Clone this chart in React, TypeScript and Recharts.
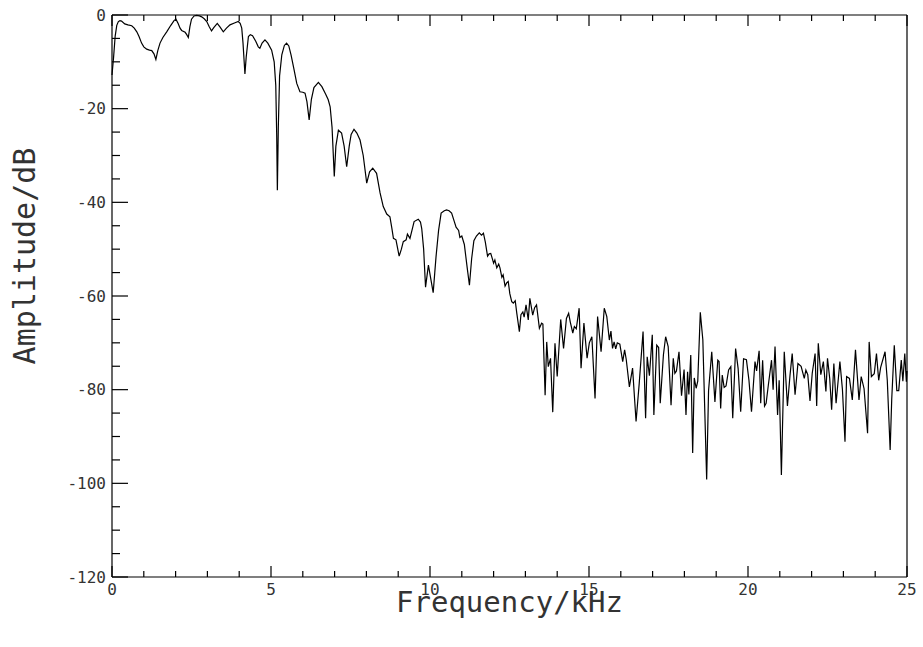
import { Line, LineChart, XAxis, YAxis } from "recharts";

// spectrum, [frequency kHz, amplitude dB]
const passband: [number, number][] = [
  [0, -12.8], [0.05, -9], [0.1, -4.5], [0.15, -2.2], [0.2, -1.4], [0.25, -1.2], [0.3, -1.3],
  [0.4, -1.9], [0.5, -2.1], [0.62, -2.3], [0.7, -2.8], [0.78, -3.6], [0.85, -4.6], [0.93, -6],
  [1, -6.8], [1.09, -7.3], [1.18, -7.5], [1.25, -7.6], [1.32, -8.3], [1.38, -9.5], [1.44, -7.6],
  [1.51, -6], [1.6, -4.8], [1.72, -3.6], [1.85, -2.2], [1.95, -1.2], [2.01, -0.9], [2.08, -1.8],
  [2.14, -2.8], [2.19, -3.3], [2.3, -3.7], [2.35, -4.2], [2.4, -4.8], [2.45, -2.5], [2.5, -0.9],
  [2.58, -0.2], [2.66, -0.1], [2.75, -0.2], [2.82, -0.4], [2.9, -0.8], [2.98, -1.4], [3.05, -2.4],
  [3.13, -3.4], [3.2, -2.7], [3.31, -1.8], [3.4, -2.6], [3.5, -3.6], [3.6, -2.8], [3.71, -2.1],
  [3.85, -1.7], [3.97, -1.4], [4.03, -1.8], [4.08, -2.8], [4.12, -6], [4.18, -12.6], [4.22, -9],
  [4.29, -4.6], [4.35, -4.2], [4.42, -4.4], [4.52, -5.6], [4.6, -6.8], [4.65, -7.1], [4.72, -6],
  [4.81, -5.3], [4.9, -6], [5.02, -7.5],
];

const transition: [number, number][] = [
  [5.1, -10], [5.15, -15], [5.18, -26], [5.2, -37.4], [5.23, -24], [5.27, -13], [5.34, -8.5],
  [5.42, -6.5], [5.49, -6], [5.56, -6.6], [5.63, -8.5], [5.72, -11.5], [5.81, -14.6], [5.91, -16.4],
  [6, -16.5], [6.07, -16.7], [6.13, -18.5], [6.2, -22.4], [6.27, -18], [6.35, -15.5], [6.49, -14.4],
  [6.6, -15.3], [6.72, -16.9], [6.8, -18.1], [6.86, -19.6], [6.92, -24], [6.99, -34.5], [7.04, -28],
  [7.12, -24.6], [7.22, -25.2], [7.3, -28], [7.38, -32.4], [7.46, -28], [7.52, -25.5], [7.61, -24.4],
  [7.7, -25.2], [7.8, -26.7], [7.9, -30], [8.01, -35.9], [8.1, -33.5], [8.2, -32.7], [8.32, -33.8],
  [8.43, -38], [8.53, -40.9], [8.64, -42.5], [8.74, -43.1], [8.8, -45.5], [8.85, -47.7], [8.93, -48],
  [9.03, -51.5], [9.1, -50], [9.16, -48.4], [9.25, -48], [9.29, -46.8], [9.37, -47.7], [9.45, -45.5],
  [9.5, -44.1], [9.63, -43.6], [9.7, -44.2], [9.74, -45.6], [9.8, -50], [9.86, -58.1], [9.95, -53.4],
  [10.1, -59.3], [10.15, -55], [10.19, -51.6], [10.27, -46], [10.35, -42.3], [10.45, -41.8],
  [10.52, -41.6], [10.6, -41.8], [10.68, -42.3], [10.76, -44], [10.82, -45.3], [10.9, -46],
  [10.94, -47.5], [11, -47.2], [11.08, -49], [11.17, -54], [11.24, -57.7], [11.31, -52], [11.38, -48.2],
  [11.46, -47.2], [11.55, -46.5], [11.62, -47], [11.68, -46.6], [11.74, -48.5], [11.81, -51.5],
  [11.86, -51], [11.91, -50.9], [11.95, -51.8], [12, -53], [12.04, -52.3], [12.1, -54], [12.16, -53.2],
  [12.2, -54], [12.26, -56], [12.3, -55.5], [12.36, -57.9], [12.41, -57.2], [12.46, -56.9],
  [12.51, -59.5], [12.57, -61.2], [12.62, -61.5], [12.68, -61], [12.73, -63.7], [12.81, -67.6],
  [12.86, -64], [12.92, -63.4], [12.96, -64.5], [13.02, -61.9], [13.09, -65.1], [13.14, -60.5],
  [13.23, -64.1], [13.29, -62.5], [13.35, -61.9], [13.44, -66.9],
];

const noiseLow: [number, number][] = [
  [13.51, -65.8], [13.55, -66], [13.62, -81.2], [13.67, -69.8], [13.72, -75.1], [13.79, -73.3],
  [13.86, -84.8], [13.93, -70.1], [14, -77.2], [14.11, -65], [14.2, -71.2], [14.29, -64.8],
  [14.36, -63.7], [14.41, -65.5], [14.49, -67.9], [14.54, -66.5], [14.6, -67], [14.69, -62.6],
  [14.75, -75.4], [14.84, -65.8], [14.94, -73.3], [15.01, -70], [15.09, -68.7], [15.19, -81.9],
  [15.27, -64.4], [15.38, -71.9], [15.48, -62.6], [15.56, -64.4], [15.64, -69.4], [15.69, -67.5],
  [15.74, -71.2], [15.79, -69.8], [15.84, -71.3], [15.89, -70], [15.97, -70.3], [16.06, -74],
  [16.12, -71.5], [16.17, -73.5], [16.27, -79.4], [16.37, -75.4], [16.48, -86.8], [16.58, -78.6],
  [16.7, -67.6], [16.78, -86.1], [16.83, -73], [16.9, -77], [16.99, -68.3], [17.04, -85.4],
  [17.13, -70.5], [17.19, -71], [17.24, -82.9], [17.34, -72.6], [17.41, -68.7], [17.49, -70.8],
  [17.58, -83.3], [17.65, -73.3], [17.7, -76.5], [17.75, -76], [17.83, -71.9], [17.91, -81.3],
  [17.99, -75.7], [18.05, -85.4], [18.1, -76.2], [18.14, -81], [18.2, -72.6], [18.26, -93.5],
  [18.31, -77.5], [18.37, -79.7], [18.42, -78.2], [18.5, -63.5], [18.58, -69.4], [18.7, -99.2],
  [18.76, -80.2], [18.86, -71.9], [18.96, -82.6],
];

const noiseHigh: [number, number][] = [
  [19.05, -73.7], [19.09, -74], [19.14, -84], [19.19, -76.9], [19.25, -79.5], [19.31, -79.2],
  [19.39, -75.8], [19.46, -75.1], [19.52, -86.1], [19.61, -71.2], [19.69, -75.5], [19.77, -84.7],
  [19.86, -73.4], [19.95, -73.6], [20.03, -78], [20.11, -84.7], [20.22, -74], [20.27, -76],
  [20.35, -71.7], [20.4, -82.9], [20.46, -73.7], [20.52, -83.5], [20.57, -82.9], [20.64, -79],
  [20.74, -73.7], [20.79, -80], [20.85, -70.8], [20.93, -85.4], [20.98, -78], [21.05, -98.2],
  [21.14, -71.9], [21.24, -83.5], [21.32, -77], [21.39, -72.3], [21.48, -81.1], [21.57, -74.4],
  [21.67, -75], [21.77, -77.6], [21.82, -75.8], [21.88, -76.8], [21.95, -82.4], [22.02, -76.5],
  [22.11, -72.3], [22.16, -83.5], [22.21, -70.1], [22.29, -76.8], [22.37, -74], [22.45, -80.4],
  [22.5, -73.3], [22.57, -77.6], [22.63, -84.3], [22.7, -74.4], [22.77, -82.9], [22.89, -74],
  [22.97, -80], [23.05, -91.1], [23.1, -77.2], [23.19, -77.6], [23.28, -82.2], [23.38, -71.5],
  [23.49, -82.2], [23.56, -77.2], [23.65, -79.8], [23.76, -89.3], [23.81, -69.8], [23.88, -77.2],
  [23.97, -76.6], [24.04, -72.3], [24.11, -78], [24.17, -75.3], [24.31, -71.9], [24.38, -78],
  [24.47, -92.9], [24.52, -82], [24.6, -70.5], [24.68, -80.2], [24.74, -80.2], [24.82, -73.7],
  [24.87, -78.2], [24.93, -72.3], [24.98, -78.3], [25, -76],
];

const freqTicks = Array.from({ length: 26 }, (_, i) => i);
const ampTicks = Array.from({ length: 25 }, (_, i) => -120 + i * 5);

const data = [...passband, ...transition, ...noiseLow, ...noiseHigh].map(([f, db]) => ({ f, db }));

const FONT = "'DejaVu Sans Mono', monospace";
const TEXT = "#333";

function AmpTick({ x, y, payload, side }: any) {
  const v = payload.value as number;
  const major = v % 20 === 0;
  const len = major ? 16 : 8;
  const dir = side === "left" ? 1 : -1;
  return (
    <g>
      <line x1={x} y1={y} x2={x + dir * len} y2={y} stroke="#000" strokeWidth={1.2} />
      {side === "left" && major && (
        <text x={x - 6} y={y} dy="0.36em" textAnchor="end" fontSize={16} fontFamily={FONT} fill={TEXT}>
          {v}
        </text>
      )}
    </g>
  );
}

function FreqTick({ x, y, payload, side }: any) {
  const v = payload.value as number;
  const major = v % 5 === 0;
  const len = major ? 11 : 6;
  const dir = side === "bottom" ? -1 : 1;
  return (
    <g>
      <line x1={x} y1={y} x2={x} y2={y + dir * len} stroke="#000" strokeWidth={1.2} />
      {side === "bottom" && major && (
        <text x={x} y={y + 18} textAnchor="middle" fontSize={16} fontFamily={FONT} fill={TEXT}>
          {v}
        </text>
      )}
    </g>
  );
}

export default function App() {
  return (
    <div style={{ position: "absolute", left: 0, top: 0, width: 923, height: 647 }}>
      <LineChart
        width={923}
        height={647}
        data={data}
        margin={{ top: 14, right: 15, bottom: 69, left: 111 }}
      >
        <XAxis
          type="number"
          dataKey="f"
          domain={[0, 25]}
          ticks={freqTicks}
          interval={0}
          height={1}
          tickSize={0}
          tickMargin={0}
          axisLine={{ stroke: "#000", strokeWidth: 1.2 }}
          tick={(p: any) => <FreqTick {...p} side="bottom" />}
          label={{
            content: ({ viewBox }: any) => (
              <text
                x={viewBox.x + viewBox.width / 2}
                y={612}
                textAnchor="middle"
                fontSize={29}
                fontFamily={FONT}
                fill={TEXT}
              >
                Frequency/kHz
              </text>
            ),
          }}
        />
        <XAxis
          xAxisId="top"
          orientation="top"
          type="number"
          dataKey="f"
          domain={[0, 25]}
          ticks={freqTicks}
          interval={0}
          height={1}
          tickSize={0}
          tickMargin={0}
          axisLine={{ stroke: "#000", strokeWidth: 1.2 }}
          tick={(p: any) => <FreqTick {...p} side="top" />}
        />
        <YAxis
          type="number"
          domain={[-120, 0]}
          ticks={ampTicks}
          interval={0}
          width={1}
          tickSize={0}
          tickMargin={0}
          axisLine={{ stroke: "#000", strokeWidth: 1.2 }}
          tick={(p: any) => <AmpTick {...p} side="left" />}
          label={{
            content: () => (
              <text
                x={35}
                y={256}
                transform="rotate(-90 35 256)"
                textAnchor="middle"
                fontSize={30}
                fontFamily={FONT}
                fill={TEXT}
              >
                Amplitude/dB
              </text>
            ),
          }}
        />
        <YAxis
          yAxisId="right"
          orientation="right"
          type="number"
          domain={[-120, 0]}
          ticks={ampTicks}
          interval={0}
          width={1}
          tickSize={0}
          tickMargin={0}
          axisLine={{ stroke: "#000", strokeWidth: 1.2 }}
          tick={(p: any) => <AmpTick {...p} side="right" />}
        />
        <Line
          type="linear"
          dataKey="db"
          stroke="#000"
          strokeWidth={1.2}
          dot={false}
          isAnimationActive={false}
        />
      </LineChart>
    </div>
  );
}
